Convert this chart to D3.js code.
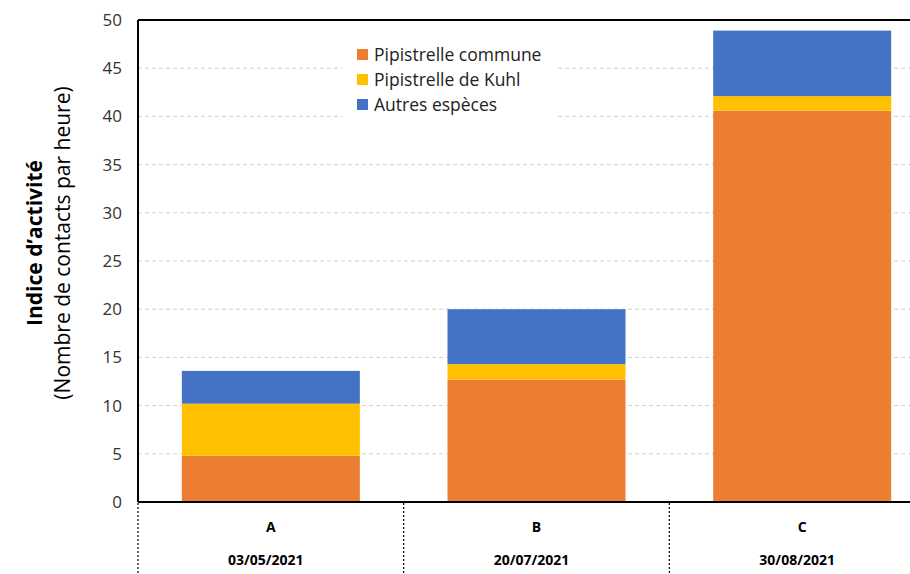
<!DOCTYPE html>
<html><head><meta charset="utf-8">
<script src="https://cdn.jsdelivr.net/npm/d3@7/dist/d3.min.js"></script>
<style>body{margin:0;background:#fff}svg{display:block}text{font-family:"Open Sans",Lato,sans-serif}</style>
</head><body>
<script>
const categories = ["A","B","C"];
const dates = ["03/05/2021","20/07/2021","30/08/2021"];
const seriesNames = ["Pipistrelle commune","Pipistrelle de Kuhl","Autres espèces"];
const commune = [4.8, 12.7, 40.6];
const kuhl = [5.4, 1.6, 1.5];
const autres = [3.4, 5.7, 6.8];
const colors = ["#ED7D31","#FFC000","#4472C4"];
const yTicks = [0,5,10,15,20,25,30,35,40,45,50];

const W=910,H=574;
const svg=d3.select("body").append("svg").attr("width",W).attr("height",H);
const pLeft=138, pTop=20, pBottom=502, pRight=935;
const x=d3.scaleBand().domain(categories).range([pLeft,pRight]).paddingInner(0.33).paddingOuter(0.165);
const y=d3.scaleLinear().domain([0,50]).range([pBottom,pTop]);

// gridlines
svg.append("g").selectAll("line").data(yTicks.filter(d=>d>0&&d<50)).join("line")
  .attr("x1",pLeft).attr("x2",W).attr("y1",d=>y(d)).attr("y2",d=>y(d))
  .attr("stroke","#d0d0d0").attr("stroke-width",1).attr("stroke-dasharray","4,3");

// stacked bars
const rows=categories.map((c,i)=>({cat:c,s0:commune[i],s1:kuhl[i],s2:autres[i]}));
const stack=d3.stack().keys(["s0","s1","s2"])(rows);
svg.append("g").selectAll("g").data(stack).join("g").attr("fill",(d,i)=>colors[i])
  .selectAll("rect").data(d=>d).join("rect")
  .attr("x",d=>x(d.data.cat)).attr("width",x.bandwidth())
  .attr("y",d=>y(d[1])).attr("height",d=>y(d[0])-y(d[1]));

// legend
const lg=svg.append("g");
lg.append("rect").attr("x",342).attr("y",40).attr("width",214).attr("height",78).attr("fill","#fff");
seriesNames.forEach((n,i)=>{
  const yy=55+i*25;
  lg.append("rect").attr("x",357).attr("y",yy-6).attr("width",11).attr("height",11).attr("fill",colors[i]);
  lg.append("text").attr("x",374).attr("y",yy+6).attr("font-size",17.5).attr("fill","#222").text(n);
});

// axes lines
svg.append("line").attr("x1",pLeft).attr("x2",W).attr("y1",pTop).attr("y2",pTop).attr("stroke","#000").attr("stroke-width",2);
svg.append("line").attr("x1",pLeft).attr("x2",pLeft).attr("y1",pTop).attr("y2",pBottom).attr("stroke","#000").attr("stroke-width",2);
svg.append("line").attr("x1",pLeft).attr("x2",W).attr("y1",pBottom).attr("y2",pBottom).attr("stroke","#000").attr("stroke-width",2);

// y axis labels via d3 axis
const ya=svg.append("g").attr("transform",`translate(${pLeft},0)`).call(d3.axisLeft(y).tickValues(yTicks).tickSize(0).tickPadding(16));
ya.select(".domain").remove();
ya.selectAll("text").attr("font-size",17).attr("fill","#333").attr("font-family","'Open Sans',sans-serif");

// category separators
const seps=[pLeft, pLeft+(pRight-pLeft)/3, pLeft+2*(pRight-pLeft)/3];
svg.append("g").selectAll("line").data(seps).join("line")
  .attr("x1",d=>d).attr("x2",d=>d).attr("y1",pBottom+1).attr("y2",H)
  .attr("stroke","#000").attr("stroke-width",1.2).attr("stroke-dasharray","2,2");

// category labels
categories.forEach((c,i)=>{
  const cx=x(c)+x.bandwidth()/2;
  svg.append("text").attr("x",cx).attr("y",532).attr("text-anchor","middle").attr("font-size",14).attr("font-weight","bold").attr("fill","#000").attr("font-family","Lato,sans-serif").text(c);
  svg.append("text").attr("x",cx-5).attr("y",565).attr("text-anchor","middle").attr("font-size",14).attr("font-weight","bold").attr("fill","#000").attr("font-family","Lato,sans-serif").text(dates[i]);
});

// y title
const yt=svg.append("g").attr("transform","translate(0,243) rotate(-90)");
yt.append("text").attr("x",0).attr("y",42).attr("text-anchor","middle").attr("font-size",21).attr("font-weight","bold").attr("fill","#000").text("Indice d’activité");
yt.append("text").attr("x",0).attr("y",70).attr("text-anchor","middle").attr("font-size",21).attr("fill","#000").text("(Nombre de contacts par heure)");
</script>
</body></html>
